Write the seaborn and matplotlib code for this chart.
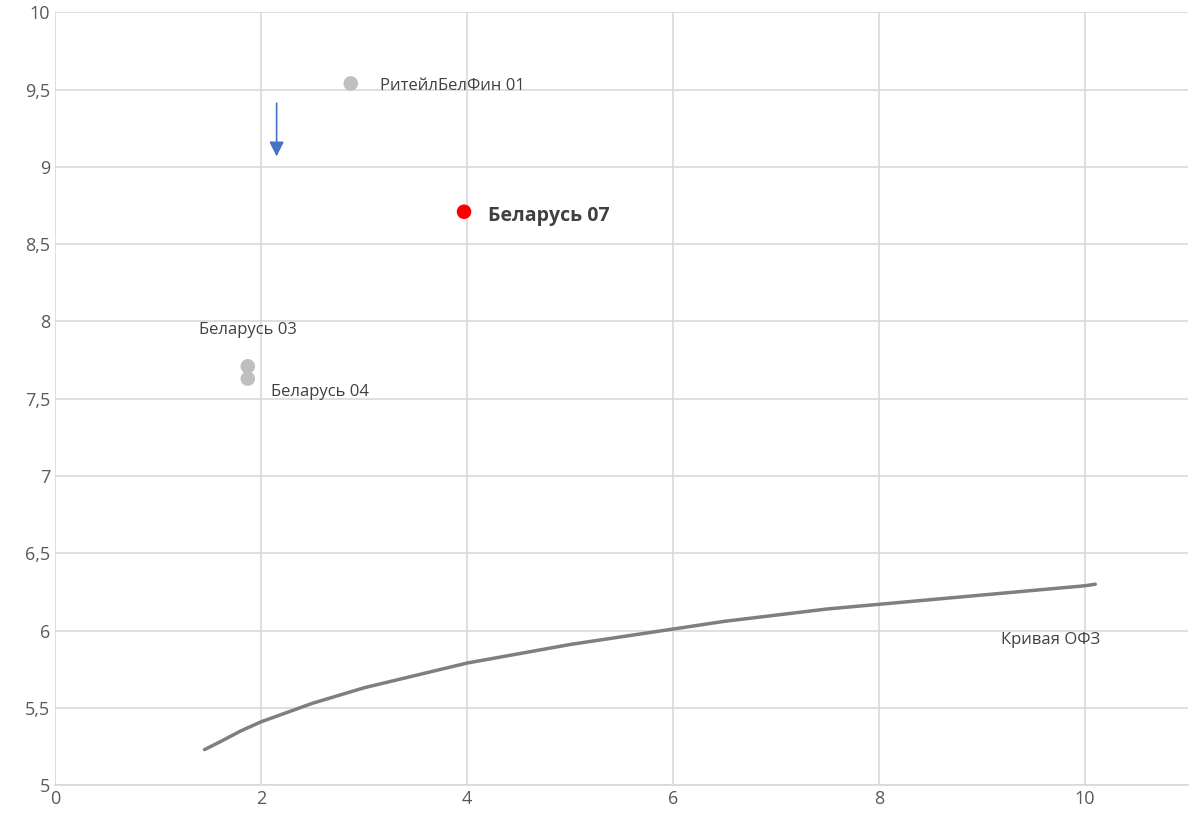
import matplotlib
matplotlib.use("Agg")
import matplotlib.pyplot as plt
import seaborn as sns
import pandas as pd

curve_x = [1.45, 1.6, 1.8, 2.0, 2.25, 2.5, 2.75, 3.0, 3.5, 4.0, 4.5, 5.0, 5.5, 6.0, 6.5, 7.0, 7.5, 8.0, 8.5, 9.0, 9.5, 10.0, 10.1]
curve_y = [5.23, 5.28, 5.35, 5.41, 5.47, 5.53, 5.58, 5.63, 5.71, 5.79, 5.85, 5.91, 5.96, 6.01, 6.06, 6.10, 6.14, 6.17, 6.20, 6.23, 6.26, 6.29, 6.30]

bond_names = ["Беларусь 03", "Беларусь 04", "РитейлБелФин 01", "Беларусь 07"]
bond_x = [1.87, 1.87, 2.87, 3.97]
bond_y = [7.71, 7.63, 9.54, 8.71]

sns.set_theme(style="white")
plt.rcParams['font.family'] = ['Open Sans', 'DejaVu Sans']
fig, ax = plt.subplots(figsize=(12, 8.23), dpi=100)
fig.subplots_adjust(left=0.046, right=0.99, bottom=0.046, top=0.985)

sns.lineplot(x=curve_x, y=curve_y, ax=ax, color="#7f7f7f", linewidth=2.5)
df = pd.DataFrame({"x": bond_x[:3], "y": bond_y[:3]})
sns.scatterplot(data=df, x="x", y="y", ax=ax, color="#bfbfbf", s=110, edgecolor="none", zorder=3)
sns.scatterplot(x=[bond_x[3]], y=[bond_y[3]], ax=ax, color="red", s=110, edgecolor="none", zorder=3)

ax.annotate("", xy=(2.15, 9.05), xytext=(2.15, 9.43),
            arrowprops=dict(arrowstyle="-|>", color="#4472c4", lw=1.2, mutation_scale=22))

tc = "#404040"
ax.text(1.87, 7.92, bond_names[0], fontsize=12, color=tc, ha="center")
ax.text(2.1, 7.52, bond_names[1], fontsize=12, color=tc)
ax.text(3.15, 9.5, bond_names[2], fontsize=12, color=tc)
ax.text(4.2, 8.65, bond_names[3], fontsize=14, color=tc, fontweight="bold")
ax.text(9.18, 5.91, "Кривая ОФЗ", fontsize=12, color=tc)

ax.set_xlim(0, 11)
ax.set_ylim(5, 10)
ax.set_xticks([0, 2, 4, 6, 8, 10])
ax.set_yticks([5, 5.5, 6, 6.5, 7, 7.5, 8, 8.5, 9, 9.5, 10])
ax.set_yticklabels([f"{v:g}".replace(".", ",") for v in ax.get_yticks()])
ax.tick_params(labelsize=13, colors="#595959", length=0)
ax.grid(True, color="#d9d9d9", linewidth=1.2)
for s in ["top", "right", "left"]:
    ax.spines[s].set_visible(False)
ax.spines["bottom"].set_color("#d9d9d9")
ax.set_xlabel(""); ax.set_ylabel("")
fig.savefig("out.png", dpi=100)
